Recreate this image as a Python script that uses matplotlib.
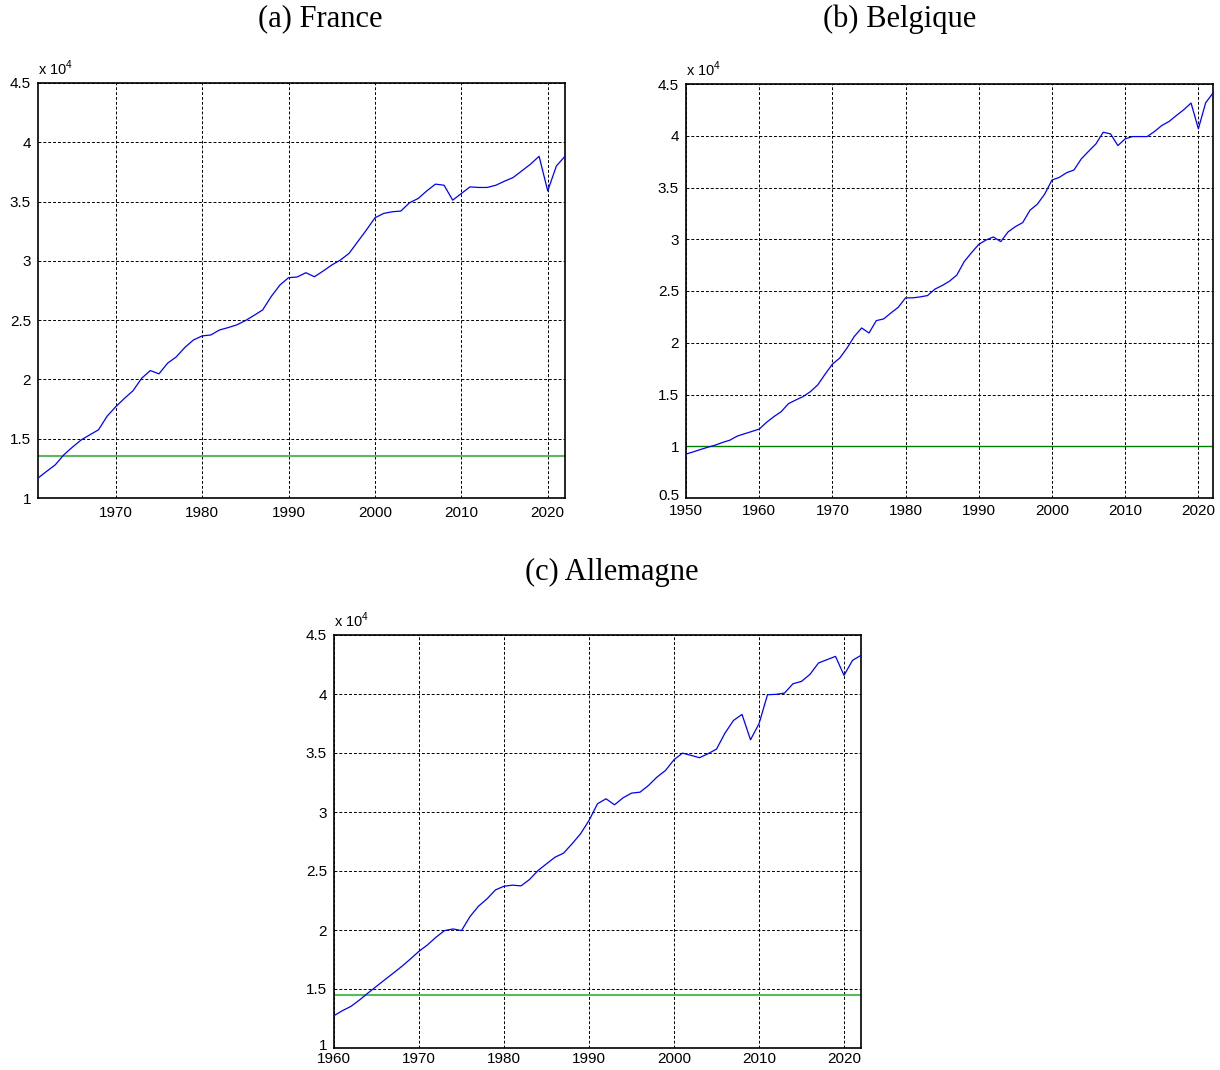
import matplotlib
matplotlib.use('Agg')
import matplotlib.pyplot as plt
import matplotlib.transforms as mtransforms
from matplotlib.ticker import FuncFormatter

plt.rcParams['font.family'] = ['Liberation Sans', 'DejaVu Sans']
plt.rcParams['mathtext.fontset'] = 'custom'
plt.rcParams['mathtext.rm'] = 'Liberation Sans'

# France, 1961-2022
france_years = list(range(1961, 2023))
france_values = [11680, 12250, 12800, 13650, 14300, 14900, 15330, 15750, 16900, 17700,
                 18400, 19050, 20100, 20750, 20470, 21370, 21900, 22700, 23330, 23670,
                 23750, 24170, 24370, 24600, 24960, 25400, 25860, 27000, 27960, 28580,
                 28640, 29000, 28660, 29140, 29650, 30070, 30630, 31610, 32590, 33630,
                 34000, 34140, 34200, 34900, 35260, 35900, 36470, 36380, 35120, 35680,
                 36240, 36190, 36190, 36380, 36720, 37030, 37590, 38150, 38820, 35900,
                 38000, 38820]
france_ref = 13560

# Belgique, 1950-2022
belgium_years = list(range(1950, 2023))
belgium_values = [9240, 9460, 9690, 9910, 10110, 10370, 10590, 10980, 11210, 11430,
                  11660, 12310, 12860, 13340, 14120, 14470, 14800, 15280, 15930, 16960,
                  17930, 18520, 19490, 20620, 21430, 20940, 22140, 22300, 22880, 23430,
                  24340, 24340, 24430, 24560, 25180, 25530, 25950, 26540, 27830, 28700,
                  29510, 29930, 30220, 29770, 30710, 31220, 31610, 32810, 33390, 34360,
                  35720, 35980, 36430, 36690, 37760, 38500, 39210, 40340, 40180, 39050,
                  39700, 39920, 39920, 39920, 40410, 40990, 41380, 41960, 42510, 43160,
                  40670, 43190, 44130]
belgium_ref = 9990

# Allemagne, 1960-2022
germany_years = list(range(1960, 2023))
germany_values = [12740, 13170, 13530, 14070, 14660, 15230, 15800, 16360, 16930, 17550,
                  18200, 18740, 19390, 19950, 20090, 19950, 21140, 22020, 22640, 23400,
                  23710, 23800, 23740, 24280, 25040, 25610, 26170, 26510, 27300, 28150,
                  29280, 30700, 31120, 30610, 31200, 31600, 31680, 32250, 32960, 33520,
                  34430, 34990, 34800, 34600, 34940, 35330, 36690, 37760, 38270, 36120,
                  37480, 39940, 39970, 40080, 40870, 41070, 41670, 42630, 42910, 43190,
                  41580, 42850, 43280]
germany_ref = 14470

W, H = 1220, 1070
fig = plt.figure(figsize=(W / 100, H / 100), dpi=100)


def make_axes(left, top, w=527, h=414):
    return fig.add_axes([left / W, 1 - (top + h) / H, w / W, h / H])


def draw_panel(ax, years, values, ref, xlim, ylim, xticks, ref_color, ref_lw, xpad, lift):
    ax.plot(years, [v / 1e4 for v in values], color='#0000ff', linewidth=0.9, zorder=3)
    ax.axhline(ref / 1e4, color=ref_color, linewidth=ref_lw, zorder=2)
    ax.set_xlim(*xlim)
    ax.set_ylim(*ylim)
    ax.set_xticks(xticks)
    yt = [ylim[0] + 0.5 * i for i in range(int(round((ylim[1] - ylim[0]) / 0.5)) + 1)]
    ax.set_yticks(yt)
    ax.yaxis.set_major_formatter(FuncFormatter(lambda v, p: '%g' % v))
    ax.grid(True, color='black', linestyle=(0, (3, 2)), linewidth=0.7)
    ax.set_axisbelow(True)
    ax.tick_params(length=0, labelsize=11)
    ax.tick_params(axis='y', pad=5)
    ax.tick_params(axis='x', pad=xpad)
    if lift:
        # nudge the lowest y label up a few pixels so it clears the first x label
        lab = ax.yaxis.get_major_ticks()[0].label1
        lab.set_transform(lab.get_transform() +
                          mtransforms.ScaledTranslation(0, lift / 100, fig.dpi_scale_trans))
    for s in ax.spines.values():
        s.set_linewidth(1.2)
    ax.text(0.0, 1.012, r'x 10$^{4}$', transform=ax.transAxes, fontsize=10.5,
            ha='left', va='bottom')


ax_a = make_axes(38, 83, h=415)
draw_panel(ax_a, france_years, france_values, france_ref, (1961, 2022), (1, 4.5),
           list(range(1970, 2021, 10)), '#5cb85c', 1.5, 6, 0)

ax_b = make_axes(686, 84)
draw_panel(ax_b, belgium_years, belgium_values, belgium_ref, (1950, 2022), (0.5, 4.5),
           list(range(1950, 2021, 10)), '#008000', 1.0, 4, 3)

ax_c = make_axes(334, 635, h=413)
draw_panel(ax_c, germany_years, germany_values, germany_ref, (1960, 2022), (1, 4.5),
           list(range(1960, 2021, 10)), '#5cb85c', 1.5, 3, 3)

title_font = dict(family='Liberation Serif', fontsize=22, ha='center', va='center')
fig.text(320 / W, 1 - 19 / H, '(a) France', **title_font)
fig.text(900 / W, 1 - 19 / H, '(b) Belgique', **title_font)
fig.text(612 / W, 1 - 572 / H, '(c) Allemagne', **title_font)

fig.savefig('out.png', dpi=100)
